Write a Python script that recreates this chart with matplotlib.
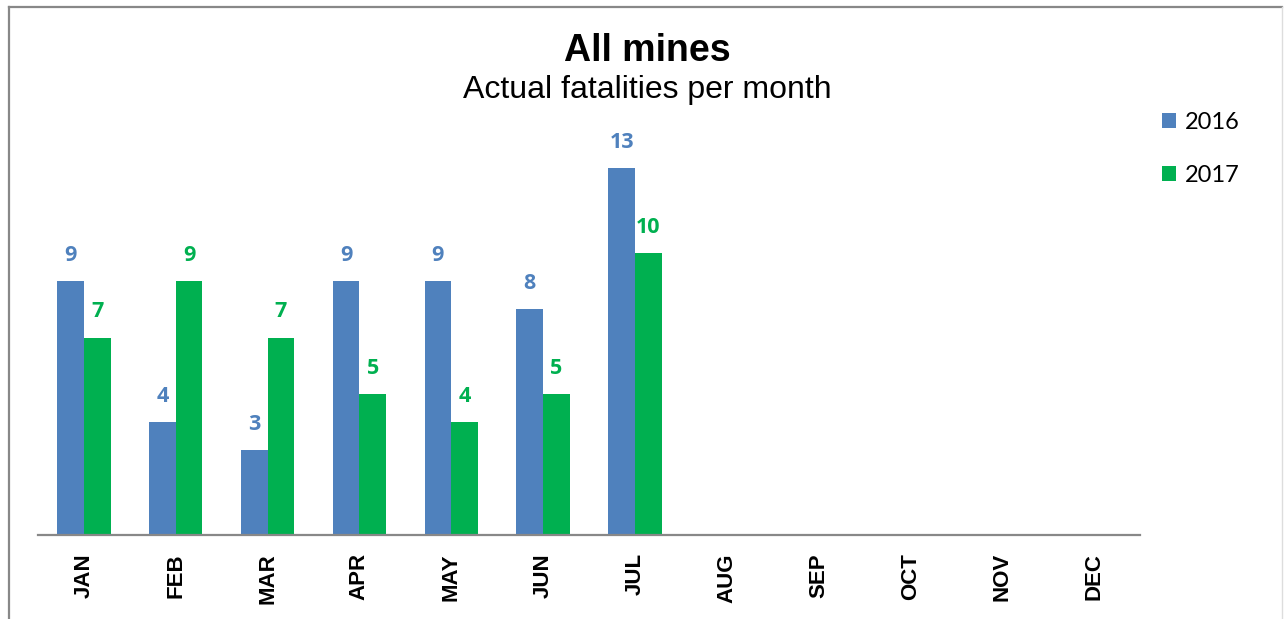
import matplotlib.pyplot as plt
import numpy as np
from matplotlib.lines import Line2D

months = ['JAN', 'FEB', 'MAR', 'APR', 'MAY', 'JUN',
          'JUL', 'AUG', 'SEP', 'OCT', 'NOV', 'DEC']
fatal_2016 = [9, 4, 3, 9, 9, 8, 13]
fatal_2017 = [7, 9, 7, 5, 4, 5, 10]

blue = '#4F81BD'
green = '#00B050'

fig = plt.figure(figsize=(12.84, 6.19), dpi=100)
ax = fig.add_axes([38 / 1284, 84 / 619, 1102 / 1284, 423 / 619])

x = np.arange(len(months))
w = 0.29
b1 = ax.bar(x[:len(fatal_2016)] - w / 2, fatal_2016, w, color=blue, label='2016')
b2 = ax.bar(x[:len(fatal_2017)] + w / 2, fatal_2017, w, color=green, label='2017')
ax.bar_label(b1, padding=11, color=blue, fontsize=15.5, fontweight='bold',
             family='Open Sans')
ax.bar_label(b2, padding=11, color=green, fontsize=15.5, fontweight='bold',
             family='Open Sans')

ax.set_xlim(-0.5, len(months) - 0.5)
ax.set_ylim(0, 15)
ax.set_xticks(x)
ax.set_xticklabels(months, rotation=90, fontsize=16, fontweight='bold',
                   family='Liberation Sans')
ax.tick_params(axis='x', length=0, pad=13)
ax.set_yticks([])
for side in ['top', 'right', 'left']:
    ax.spines[side].set_visible(False)
ax.spines['bottom'].set_color('#888888')
ax.spines['bottom'].set_linewidth(1.6)

fig.text(0.504, 0.918, 'All mines', ha='center', va='center', fontsize=27,
         fontweight='bold', family='Liberation Sans')
fig.text(0.504, 0.855, 'Actual fatalities per month', ha='center',
         va='center', fontsize=23, family='Liberation Sans')

fig.legend(handles=[b1, b2], loc='upper left',
           bbox_to_anchor=(1141 / 1284, 1 - 91 / 619),
           frameon=False, prop={'family': 'Lato', 'size': 17},
           handlelength=0.6, handleheight=0.6, handletextpad=0.35,
           labelspacing=1.35)

# chart border
fig.add_artist(Line2D([9 / 1284, 9 / 1284], [0, 1 - 7 / 619],
                      transform=fig.transFigure, color='#888888', lw=1.6))
fig.add_artist(Line2D([9 / 1284, 1282 / 1284], [1 - 7 / 619, 1 - 7 / 619],
                      transform=fig.transFigure, color='#888888', lw=1.6))
fig.add_artist(Line2D([1282 / 1284, 1282 / 1284], [0, 1 - 7 / 619],
                      transform=fig.transFigure, color='#dddddd', lw=1.0))

fig.savefig('out.png', dpi=100)
